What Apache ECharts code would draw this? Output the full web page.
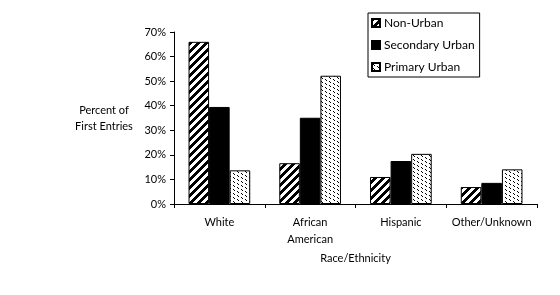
<!DOCTYPE html>
<html><head><meta charset="utf-8">
<script src="https://cdn.jsdelivr.net/npm/echarts@6/dist/echarts.min.js"></script>
<style>html,body{margin:0;padding:0;background:#fff}#c{width:560px;height:295px}</style>
</head><body><div id="c"></div>
<script>
var categories = ['White', 'African\nAmerican', 'Hispanic', 'Other/Unknown'];
var nonUrban = [66, 16.6, 11, 6.9];
var secondaryUrban = [39.5, 35.1, 17.5, 8.6];
var primaryUrban = [13.7, 52.2, 20.4, 14.1];
var seriesNames = ['Non-Urban', 'Secondary Urban', 'Primary Urban'];
var yTicks = [0, 10, 20, 30, 40, 50, 60, 70];

function stripePattern() {
  var c = document.createElement('canvas'); c.width = 8; c.height = 8;
  var g = c.getContext('2d');
  g.fillStyle = '#fff'; g.fillRect(0, 0, 8, 8);
  g.fillStyle = '#000';
  for (var y = 0; y < 8; y++) {
    for (var k = 0; k < 4; k++) {
      var x = ((7 - y) + k) % 8;
      g.fillRect(x, y, 1, 1);
    }
  }
  return c;
}
function dotPattern() {
  var c = document.createElement('canvas'); c.width = 8; c.height = 8;
  var g = c.getContext('2d');
  g.fillStyle = '#fff'; g.fillRect(0, 0, 8, 8);
  g.fillStyle = '#000';
  var pts = [[1,1],[2,2],[5,3],[6,4],[1,5],[2,6],[5,7],[6,0]];
  pts.forEach(function(p){ g.fillRect(p[0], p[1], 1, 1); });
  return c;
}

var font = 'Lato';
var chart = echarts.init(document.getElementById('c'));
var base = {
  type: 'bar',
  barCategoryGap: '32%',
  barGap: '0%',
  animation: false
};
chart.setOption({
  animation: false,
  textStyle: { fontFamily: font, color: '#000' },
  grid: { left: 174, right: 23, top: 32, bottom: 91 },
  legend: {
    orient: 'vertical',
    left: 368, top: 13,
    padding: [4, 5, 4, 3],
    itemGap: 10,
    itemWidth: 8, itemHeight: 8,
    borderColor: '#000', borderWidth: 1,
    backgroundColor: '#fff',
    textStyle: { fontFamily: font, fontSize: 12, color: '#000', padding: [0, 0, 0, -1] },
    icon: 'rect',
    data: seriesNames
  },
  xAxis: {
    type: 'category',
    data: categories,
    name: 'Race/Ethnicity',
    nameLocation: 'middle',
    nameGap: 47,
    nameTextStyle: { fontFamily: font, fontSize: 11, color: '#000' },
    axisLine: { lineStyle: { color: '#000', width: 1 } },
    axisTick: { show: true, length: 4, lineStyle: { color: '#000' } },
    axisLabel: { fontFamily: font, fontSize: 11, color: '#000', margin: 10, lineHeight: 17, interval: 0 }
  },
  yAxis: {
    type: 'value',
    min: 0, max: 70, interval: 10,
    name: 'Percent of\nFirst Entries',
    nameLocation: 'middle',
    nameRotate: 0,
    nameGap: 70,
    nameTextStyle: { fontFamily: font, fontSize: 11, color: '#000', align: 'center', lineHeight: 16 },
    splitLine: { show: false },
    axisLine: { show: true, lineStyle: { color: '#000', width: 1 } },
    axisTick: { show: true, length: 4, lineStyle: { color: '#000' } },
    axisLabel: { fontFamily: font, fontSize: 11, color: '#000', margin: 8,
      formatter: function(v){ return yTicks.indexOf(v) >= 0 ? v + '%' : ''; } }
  },
  series: [
    Object.assign({}, base, { name: seriesNames[0], data: nonUrban,
      itemStyle: { color: { image: stripePattern(), repeat: 'repeat' }, borderColor: '#000', borderWidth: 1 } }),
    Object.assign({}, base, { name: seriesNames[1], data: secondaryUrban,
      itemStyle: { color: '#000', borderColor: '#000', borderWidth: 1 } }),
    Object.assign({}, base, { name: seriesNames[2], data: primaryUrban,
      itemStyle: { color: { image: dotPattern(), repeat: 'repeat' }, borderColor: '#000', borderWidth: 1 } })
  ]
});
</script></body></html>
